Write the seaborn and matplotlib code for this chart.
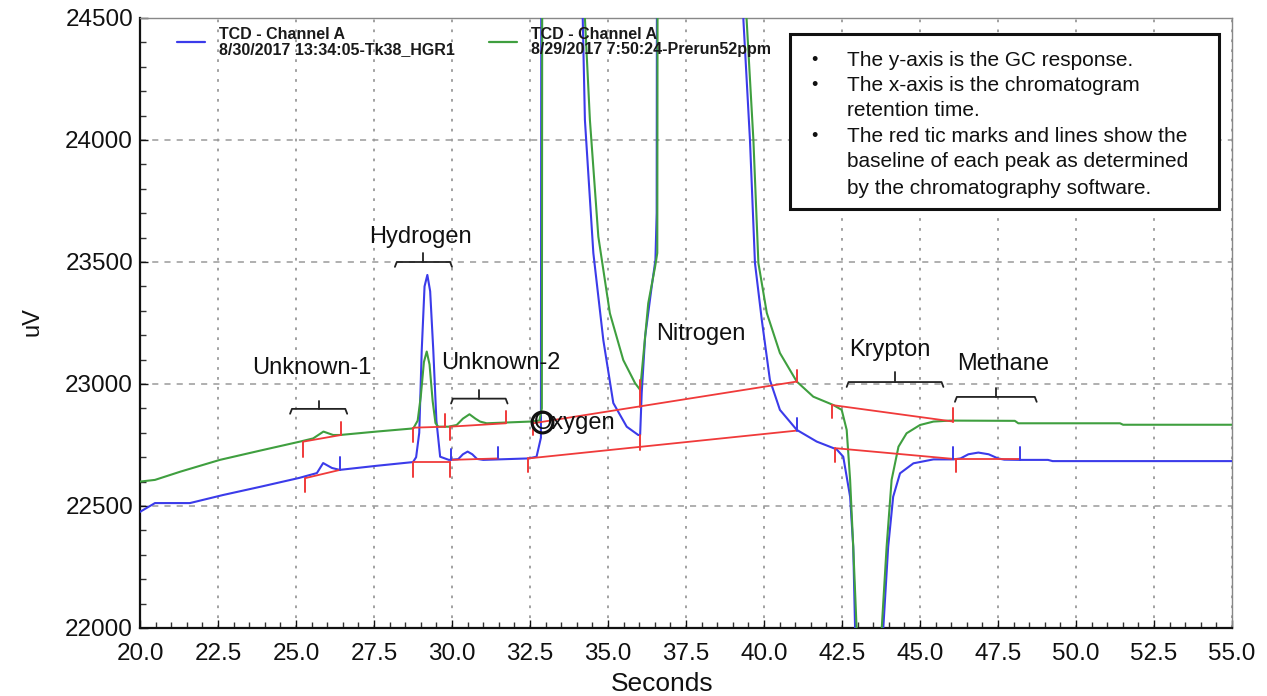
import matplotlib
matplotlib.use("Agg")
import matplotlib.pyplot as plt
import seaborn as sns
import pandas as pd
from matplotlib import font_manager
from matplotlib.patches import Rectangle
from matplotlib.lines import Line2D
from matplotlib.ticker import MultipleLocator, FormatStrFormatter

# ---------------- data ----------------
blue_t = [20.0, 20.48, 21.6, 22.66, 23.9, 25.1, 25.67, 25.87, 26.15, 26.4, 27.6, 28.75, 28.85, 28.95,
          29.03, 29.12, 29.21, 29.3, 29.4, 29.5, 29.62, 29.9, 30.2, 30.35, 30.5, 30.65, 30.8, 31.0,
          32.45, 32.71, 32.85, 32.87, 33.4, 34.1, 34.19, 34.26, 34.53, 34.85, 35.17, 35.6, 35.97,
          36.03, 36.08, 36.19, 36.4, 36.52, 36.56, 36.58, 37.9, 39.3, 39.34, 39.55, 39.71, 39.93,
          40.19, 40.51, 41.05, 41.69, 42.33, 42.54, 42.76, 42.86, 42.92, 43.37, 43.82, 43.98, 44.14,
          44.36, 44.79, 45.43, 46.07, 46.3, 46.55, 46.87, 47.2, 47.5, 47.7, 48.2, 49.1, 49.25, 55.0]
blue_uv = [22476, 22512, 22512, 22545, 22580, 22615, 22635, 22676, 22656, 22648, 22665, 22680, 22700, 22800,
           23139, 23400, 23447, 23380, 23139, 22850, 22702, 22689, 22692, 22712, 22723, 22712, 22693, 22689,
           22695, 22702, 22780, 26000, 35000, 26000, 24500, 24082, 23537, 23180, 22922, 22825, 22791,
           22791, 22963, 23194, 23399, 23508, 23700, 26000, 40000, 26000, 24492, 24000, 23496, 23262,
           23016, 22894, 22812, 22764, 22732, 22702, 22538, 22333, 21992, 20500, 21992, 22333, 22538,
           22634, 22675, 22691, 22691, 22695, 22712, 22719, 22712, 22695, 22690, 22689, 22689, 22684, 22684]

green_t = [20.0, 20.48, 21.3, 22.56, 23.85, 25.13, 25.55, 25.88, 26.19, 26.41, 27.58, 28.76, 28.9, 29.0,
           29.1, 29.19, 29.28, 29.38, 29.47, 29.56, 29.88, 30.15, 30.35, 30.56, 30.75, 30.9, 31.11, 32.5,
           32.8, 32.88, 32.9, 33.5, 34.15, 34.26, 34.42, 34.69, 35.06, 35.49, 35.87, 36.03, 36.19, 36.29,
           36.51, 36.58, 36.6, 38.0, 39.4, 39.44, 39.66, 39.82, 40.09, 40.51, 41.05, 41.58, 42.22, 42.49,
           42.65, 42.76, 42.86, 42.97, 43.37, 43.77, 43.93, 44.09, 44.31, 44.57, 45.0, 45.43, 45.96,
           48.04, 48.15, 51.41, 51.51, 55.0]
green_uv = [22600, 22607, 22641, 22689, 22727, 22764, 22777, 22805, 22791, 22791, 22805, 22818, 22850, 22950,
            23090, 23133, 23080, 22930, 22840, 22825, 22825, 22832, 22858, 22876, 22858, 22846, 22839, 22846,
            22850, 22900, 26000, 32000, 26000, 24500, 24082, 23604, 23290, 23098, 23003, 22976, 23194, 23331,
            23481, 23537, 26000, 40000, 26000, 24500, 24000, 23496, 23291, 23127, 23010, 22948, 22914, 22894,
            22812, 22607, 22333, 21992, 20500, 21992, 22333, 22607, 22743, 22798, 22832, 22846, 22850,
            22849, 22839, 22839, 22833, 22833]

# peak baselines (x0, y0, x1, y1)
blue_baselines = [(25.29, 22614, 26.41, 22648), (28.76, 22682, 29.94, 22682), (29.97, 22689, 31.49, 22695),
                  (32.45, 22695, 41.05, 22809), (42.28, 22737, 46.07, 22693), (46.07, 22691, 48.2, 22691)]
green_baselines = [(25.24, 22764, 26.44, 22791), (28.76, 22821, 29.78, 22825), (29.92, 22825, 31.73, 22839),
                   (32.6, 22839, 41.05, 23010), (42.17, 22914, 46.07, 22846)]
# tic marks (x, y0, y1, kind) kind: r = red, b = blue
tic_marks = [(25.29, 22614, 22557, "r"), (26.41, 22648, 22701, "b"), (28.76, 22676, 22619, "r"),
             (29.94, 22682, 22619, "r"), (29.97, 22689, 22735, "b"), (31.49, 22695, 22742, "b"),
             (32.45, 22697, 22640, "r"), (36.03, 22791, 22730, "r"), (41.05, 22809, 22861, "b"),
             (42.28, 22738, 22681, "r"), (46.07, 22693, 22742, "b"), (46.15, 22693, 22640, "r"),
             (48.2, 22689, 22742, "b"),
             (25.24, 22764, 22702, "r"), (26.44, 22791, 22846, "r"), (28.76, 22820, 22763, "r"),
             (29.78, 22825, 22875, "r"), (29.92, 22825, 22770, "r"), (31.73, 22839, 22889, "r"),
             (32.6, 22846, 22791, "r"), (36.03, 22906, 23017, "r"), (41.05, 23010, 23057, "r"),
             (42.17, 22914, 22861, "r"), (46.07, 22846, 22902, "r")]

peak_names = ["Unknown-1", "Hydrogen", "Unknown-2", "Nitrogen", "Krypton", "Methane"]
peak_label_x = [25.5, 29.0, 31.57, 37.98, 44.04, 47.66]
peak_label_y = [23066, 23603, 23086, 23205, 23139, 23082]
# brackets: x0, x1, y, tick top
brackets = [(24.81, 26.64, 22898, 22931), (28.17, 30.0, 23500, 23535), (29.97, 31.78, 22940, 22976),
            (42.65, 45.75, 23008, 23051), (46.12, 48.74, 22947, 22984)]

legend_labels = ["TCD - Channel A\n8/30/2017 13:34:05-Tk38_HGR1",
                 "TCD - Channel A\n8/29/2017 7:50:24-Prerun52ppm"]
note_lines = [("\u2022", "The y-axis is the GC response."),
              ("\u2022", "The x-axis is the chromatogram"),
              ("", "retention time."),
              ("\u2022", "The red tic marks and lines show the"),
              ("", "baseline of each peak as determined"),
              ("", "by the chromatography software.")]

# ---------------- styling ----------------
sns.set_theme(style="white")
names = {f.name for f in font_manager.fontManager.ttflist}
REG = "Liberation Sans" if "Liberation Sans" in names else "DejaVu Sans"
plt.rcParams["font.family"] = [REG, "DejaVu Sans"]

BLUE = "#3b3bea"
GREEN = "#3f9f3f"
RED = "#f03a3a"

fig = plt.figure(figsize=(12.67, 6.96), dpi=100)
ax = fig.add_axes([140 / 1267, 68 / 696, 1092 / 1267, 610 / 696])

df_g = pd.DataFrame({"Seconds": green_t, "uV": green_uv})
df_b = pd.DataFrame({"Seconds": blue_t, "uV": blue_uv})
sns.lineplot(data=df_b, x="Seconds", y="uV", sort=False, estimator=None, color=BLUE, lw=1.5, ax=ax, zorder=3)
sns.lineplot(data=df_g, x="Seconds", y="uV", sort=False, estimator=None, color=GREEN, lw=1.5, ax=ax, zorder=3)

for x0, y0, x1, y1 in blue_baselines + green_baselines:
    ax.plot([x0, x1], [y0, y1], color=RED, lw=1.3, zorder=4)
for x, y0, y1, k in tic_marks:
    ax.plot([x, x], [y0, y1], color=RED if k == "r" else BLUE, lw=1.4, zorder=4)

for x0, x1, y, yt in brackets:
    xc = (x0 + x1) / 2
    ax.plot([x0, x0 + 0.06, x1 - 0.06, x1], [y - 20, y, y, y - 20], color="#222222", lw=1.3, zorder=5)
    ax.plot([xc, xc], [y, yt], color="#222222", lw=1.3, zorder=5)

for name, lx, ly in zip(peak_names, peak_label_x, peak_label_y):
    ax.text(lx, ly, name, ha="center", va="center", fontsize=17, color="#111111", zorder=6)

ax.plot([32.88], [22844], marker="o", markersize=15, mfc="none", mec="#111111", mew=2.2, zorder=6)
ax.text(32.63, 22840, "Oxygen", ha="left", va="center", fontsize=17, color="#111111", zorder=6)

ax.set_xlim(20, 55)
ax.set_ylim(22000, 24500)
ax.xaxis.set_major_locator(MultipleLocator(2.5))
ax.xaxis.set_minor_locator(MultipleLocator(0.5))
ax.yaxis.set_major_locator(MultipleLocator(500))
ax.yaxis.set_minor_locator(MultipleLocator(100))
ax.xaxis.set_major_formatter(FormatStrFormatter("%.1f"))
ax.yaxis.set_major_formatter(FormatStrFormatter("%d"))
ax.tick_params(axis="both", which="major", direction="in", length=6, width=1, colors="#111111",
               labelsize=17.5, bottom=True, left=True)
ax.tick_params(axis="x", which="major", pad=11)
ax.tick_params(axis="y", which="major", pad=5)
ax.tick_params(axis="both", which="minor", direction="in", length=4, width=1, colors="#333333",
               bottom=True, left=True)

ax.grid(False)
ax.xaxis.grid(True, which="major", linestyle=(0, (1.5, 4)), color="#9a9a9a", lw=1.3)
ax.yaxis.grid(True, which="major", linestyle=(0, (4, 4)), color="#9a9a9a", lw=1.1)
ax.set_axisbelow(True)

for s in ["left", "bottom"]:
    ax.spines[s].set_color("#111111")
    ax.spines[s].set_linewidth(1.6)
for s in ["top", "right"]:
    ax.spines[s].set_color("#888888")
    ax.spines[s].set_linewidth(1.0)

ax.set_xlabel("Seconds", fontsize=19, color="#111111")
ax.xaxis.set_label_coords((662 - 140) / 1092, -(684 - 628) / 610)
ax.set_ylabel("uV", fontsize=17, color="#111111")
ax.yaxis.set_label_coords(-(140 - 32) / 1092, 1 - (322 - 18) / 610)
ax.xaxis.label.set_va("center")
ax.yaxis.label.set_va("center")

handles = [Line2D([], [], color=BLUE, lw=1.6), Line2D([], [], color=GREEN, lw=1.6)]
leg = ax.legend(handles, legend_labels, ncol=2, loc="upper left", bbox_to_anchor=(0.034, 0.986),
                frameon=False, handlelength=1.75, handletextpad=0.9, columnspacing=2.1,
                borderaxespad=0, borderpad=0,
                prop={"family": REG, "weight": "bold", "size": 11.5})
for t in leg.get_texts():
    t.set_linespacing(1.05)
    t.set_color("#1a1a1a")

box = Rectangle((0.595, 0.687), 0.393, 0.287, transform=ax.transAxes, facecolor="white",
                edgecolor="#111111", lw=2.2, zorder=7)
ax.add_patch(box)
line_y = [0.931, 0.889, 0.849, 0.805, 0.764, 0.721]
for (b, txt), yy in zip(note_lines, line_y):
    if b:
        ax.text(0.618, yy, b, transform=ax.transAxes, ha="center", va="center", fontsize=13,
                color="#111111", zorder=8)
    ax.text(0.647, yy, txt, transform=ax.transAxes, ha="left", va="center", fontsize=15,
            color="#111111", zorder=8)

fig.savefig("out.png", dpi=100)
